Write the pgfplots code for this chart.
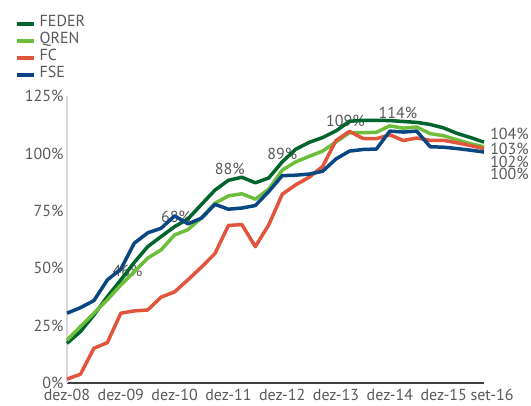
\documentclass[border=0pt]{standalone}
\usepackage{fontspec}
\setmainfont{PT Sans}
\usepackage{pgfplots}
\usepackage{pgfplotstable}
\pgfplotsset{compat=1.18}

\definecolor{feder}{RGB}{0,100,45}
\definecolor{qren}{RGB}{110,190,60}
\definecolor{fc}{RGB}{224,85,60}
\definecolor{fse}{RGB}{10,70,130}
\definecolor{txtgray}{RGB}{89,89,89}
\tikzset{lbl/.style={font=\fontsize{16bp}{19bp}\selectfont, text=txtgray, inner sep=0pt}}

% quarterly execution rates, dez-08 .. set-16
\pgfplotstableread{
i  feder qren  fc    fse
0  17.3  18.7  1.7   30.4
1  22.4  24.6  3.8   32.8
2  29.6  30.4  15.1  35.9
3  37.6  36.2  17.6  44.9
4  44.9  42.7  30.4  49.6
5  52.5  48.5  31.4  60.9
6  59.4  54.4  31.8  65.4
7  63.8  58.0  37.4  67.4
8  68.1  64.5  39.7  72.8
9  71.5  66.8  45.0  69.3
10 77.8  72.0  50.5  71.8
11 84.0  78.3  56.4  77.8
12 88.3  81.5  68.6  75.7
13 89.6  82.4  69.0  76.2
14 87.2  80.1  59.4  77.3
15 89.3  84.4  68.9  83.4
16 96.3  92.7  82.2  90.3
17 101.8 96.3  86.3  90.5
18 104.8 98.7  89.6  91.0
19 106.9 101.0 94.3  92.2
20 109.8 105.0 105.6 97.6
21 114.0 109.0 109.6 101.0
22 114.4 109.0 106.5 101.7
23 114.4 109.2 106.4 101.9
24 114.3 112.0 108.1 109.7
25 113.9 111.0 105.6 109.3
26 113.5 111.5 106.7 109.7
27 112.6 108.6 105.7 102.9
28 111.1 107.7 105.7 102.7
29 108.7 105.9 104.6 102.1
30 106.9 104.2 103.4 101.4
31 104.9 102.9 102.1 100.6
}\datatable

\begin{document}
\begin{tikzpicture}
\useasboundingbox (-67bp,-23bp) rectangle (464bp,383bp);
\begin{axis}[
    scale only axis,
    width=417bp, height=287bp,
    at={(0,0)}, anchor=south west,
    xmin=0, xmax=31, ymin=0, ymax=125,
    clip=false,
    axis x line=bottom, axis y line=left,
    x axis line style={-, draw=black!75, line width=1.3bp},
    y axis line style={-, draw=black!15, line width=1.5bp},
    major tick length=0pt,
    xtick={0,4,8,12,16,20,24,28,31},
    xticklabels={dez-08,dez-09,dez-10,dez-11,dez-12,dez-13,dez-14,dez-15,\hspace*{16bp}set-16},
    xticklabel style={yshift=-3bp},
    ytick={0,25,50,75,100,125},
    yticklabels={0\%,25\%,50\%,75\%,100\%,125\%},
    tick label style={font=\fontsize{16bp}{19bp}\selectfont, text=txtgray},
    every axis plot/.append style={line width=3.5bp, line join=round, mark=none},
    legend cell align=left,
    legend style={at={(-0.1247,1.282)}, anchor=north west, draw=none, fill=none,
        inner sep=0pt, row sep=0pt,
        font=\fontsize{16bp}{17bp}\selectfont,
        nodes={inner sep=0pt, text height=11.5bp, text depth=5.5bp, text=txtgray},
        /tikz/every odd column/.append style={column sep=4bp}},
    legend image code/.code={\draw[#1] (0bp,0bp) -- (17bp,0bp);},
]
\node[lbl] at (axis cs:4.5,49) {46\%};
\node[lbl] at (axis cs:8.1,72.5) {68\%};
\node[lbl] at (axis cs:12.1,93.4) {88\%};
\node[lbl] at (axis cs:16.0,100) {89\%};
\node[lbl] at (axis cs:20.7,114) {109\%};
\node[lbl] at (axis cs:24.6,117.7) {114\%};
\node[lbl, anchor=west] at (axis cs:31.45,108.4) {104\%};
\node[lbl, anchor=west] at (axis cs:31.45,102.1) {103\%};
\node[lbl, anchor=west] at (axis cs:31.45,96.3) {102\%};
\node[lbl, anchor=west] at (axis cs:31.45,91.0) {100\%};

\addplot[feder] table[x=i, y=feder] {\datatable};
\addplot[qren] table[x=i, y=qren] {\datatable};
\addplot[fc] table[x=i, y=fc] {\datatable};
\addplot[fse] table[x=i, y=fse] {\datatable};
\legend{FEDER,QREN,FC,FSE}
\end{axis}
\end{tikzpicture}
\end{document}
